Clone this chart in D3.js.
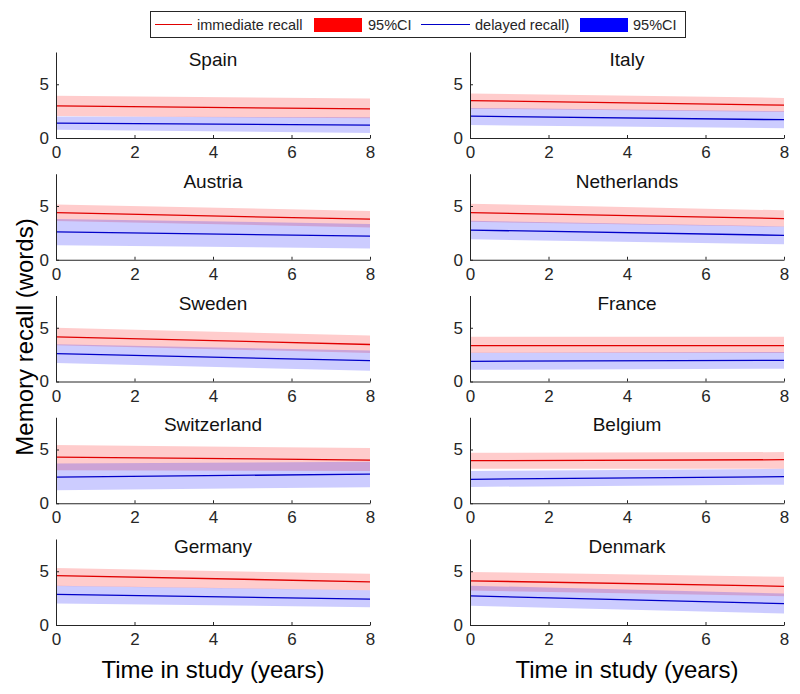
<!DOCTYPE html>
<html>
<head>
<meta charset="utf-8">
<script src="https://cdn.jsdelivr.net/npm/d3@7"></script>
<style>
  html, body { margin: 0; padding: 0; background: #fff; }
  svg { display: block; font-family: "Liberation Sans", Arial, sans-serif; }
</style>
</head>
<body>
<svg id="chart" width="800" height="694"></svg>
<script>
// ---------------- data ----------------
const countries = ["Spain", "Italy", "Austria", "Netherlands", "Sweden",
                   "France", "Switzerland", "Belgium", "Germany", "Denmark"];
const years = [0, 8];
const xTicks = [0, 2, 4, 6, 8];
const yTicks = [0, 5];

const immediate = [[2.98, 2.70], [3.48, 3.06], [4.38, 3.77], [4.39, 3.83], [4.16, 3.44],
                   [3.34, 3.34], [4.30, 4.02], [3.96, 4.05], [4.60, 4.02], [4.11, 3.60]];
const immHigh   = [[3.93, 3.68], [4.15, 3.73], [5.15, 4.54], [5.21, 4.60], [5.00, 4.28],
                   [4.16, 4.16], [5.42, 5.14], [4.70, 4.76], [5.30, 4.76], [4.94, 4.49]];
const immLow    = [[2.05, 1.84], [2.73, 2.42], [3.61, 3.00], [3.53, 3.07], [3.37, 2.66],
                   [2.66, 2.66], [3.08, 2.99], [3.21, 3.21], [3.63, 3.23], [3.21, 2.68]];

const delayed   = [[1.38, 1.20], [2.03, 1.70], [2.59, 2.19], [2.76, 2.27], [2.59, 1.94],
                   [1.88, 1.97], [2.43, 2.71], [2.23, 2.47], [2.84, 2.41], [2.71, 1.99]];
const delHigh   = [[2.00, 1.94], [2.80, 2.48], [3.80, 3.33], [3.62, 3.10], [3.46, 2.88],
                   [2.67, 2.75], [3.70, 3.85], [3.00, 3.21], [3.66, 3.23], [3.66, 2.92]];
const delLow    = [[0.77, 0.46], [1.21, 0.91], [1.36, 1.05], [1.90, 1.44], [1.72, 1.00],
                   [1.09, 1.19], [1.21, 1.50], [1.52, 1.73], [2.01, 1.65], [1.79, 1.07]];

const legendLabels = ["immediate recall", "95%CI", "delayed recall)", "95%CI"];
const xLabel = "Time in study (years)";
const yLabel = "Memory recall (words)";

// ---------------- layout ----------------
const svg = d3.select("#chart");
const colLeft = [56, 470];
const panelW = 314;
const panelH = 86;
const firstBottom = 138;
const rowStep = 121.75;
const axisColor = "#262626";
const redLine = "#e00000", blueLine = "#0000c8";
const redFill = "#ff0000", blueFill = "#0000ff";

const x = d3.scaleLinear().domain([0, 8]);
const y = d3.scaleLinear().domain([0, 8]);

countries.forEach((name, i) => {
  const col = i % 2, row = Math.floor(i / 2);
  const x0 = colLeft[col];
  const bottom = firstBottom + row * rowStep;
  const top = bottom - panelH;
  const xs = x.copy().range([x0, x0 + panelW]);
  const ys = y.copy().range([bottom, top]);
  const g = svg.append("g");

  const band = (lo, hi) => years.map((yr, k) => ({ yr, lo: lo[i][k], hi: hi[i][k] }));
  const area = d3.area().x(d => xs(d.yr)).y0(d => ys(d.lo)).y1(d => ys(d.hi));
  const line = d3.line().x(d => xs(d.yr)).y(d => ys(d.v));

  g.append("path").attr("d", area(band(immLow, immHigh)))
    .attr("fill", redFill).attr("fill-opacity", 0.2);
  g.append("path").attr("d", area(band(delLow, delHigh)))
    .attr("fill", blueFill).attr("fill-opacity", 0.2);

  g.append("path").attr("d", line(years.map((yr, k) => ({ yr, v: immediate[i][k] }))))
    .attr("fill", "none").attr("stroke", redLine).attr("stroke-width", 1.3);
  g.append("path").attr("d", line(years.map((yr, k) => ({ yr, v: delayed[i][k] }))))
    .attr("fill", "none").attr("stroke", blueLine).attr("stroke-width", 1.3);

  const xa = g.append("g").attr("transform", `translate(0,${bottom})`)
    .call(d3.axisBottom(xs).tickValues(xTicks).tickFormat(d3.format("d"))
      .tickSizeInner(-3).tickSizeOuter(0).tickPadding(8));
  const ya = g.append("g").attr("transform", `translate(${x0},0)`)
    .call(d3.axisLeft(ys).tickValues(yTicks).tickFormat(d3.format("d"))
      .tickSizeInner(-3).tickSizeOuter(0).tickPadding(7));
  [xa, ya].forEach(a => {
    a.selectAll("path.domain").attr("stroke", axisColor);
    a.selectAll("line").attr("stroke", axisColor);
    a.selectAll("text").attr("fill", axisColor).style("font-size", "17px")
      .style("font-family", "Liberation Sans, Arial, sans-serif");
  });

  g.append("text").attr("x", x0 + panelW / 2).attr("y", top + 14)
    .attr("text-anchor", "middle").style("font-size", "19px").attr("fill", "#111")
    .text(name);
});

// axis labels
[0, 1].forEach(c => {
  svg.append("text").attr("x", colLeft[c] + panelW / 2).attr("y", 678)
    .attr("text-anchor", "middle").style("font-size", "24px").attr("fill", "#000")
    .text(xLabel);
});
svg.append("text").attr("transform", "translate(33,337) rotate(-90)")
  .attr("text-anchor", "middle").style("font-size", "24px").attr("fill", "#000")
  .text(yLabel);

// legend
const leg = svg.append("g");
leg.append("rect").attr("x", 150.5).attr("y", 11.5).attr("width", 535).attr("height", 26)
  .attr("fill", "#fff").attr("stroke", axisColor).attr("stroke-width", 1);
const legItems = [
  { type: "line", color: redLine, x1: 155, x2: 192, tx: 197, label: legendLabels[0] },
  { type: "rect", color: redFill, x1: 314, x2: 362, tx: 368, label: legendLabels[1] },
  { type: "line", color: blueLine, x1: 421, x2: 470, tx: 475, label: legendLabels[2] },
  { type: "rect", color: blueFill, x1: 580, x2: 628, tx: 633, label: legendLabels[3] }
];
legItems.forEach(it => {
  if (it.type === "line") {
    leg.append("line").attr("x1", it.x1).attr("x2", it.x2).attr("y1", 24.5).attr("y2", 24.5)
      .attr("stroke", it.color).attr("stroke-width", 1.2);
  } else {
    leg.append("rect").attr("x", it.x1).attr("y", 18).attr("width", it.x2 - it.x1).attr("height", 14)
      .attr("fill", it.color);
  }
  leg.append("text").attr("x", it.tx).attr("y", 30).style("font-size", "14.5px")
    .attr("fill", axisColor).text(it.label);
});
</script>
</body>
</html>
